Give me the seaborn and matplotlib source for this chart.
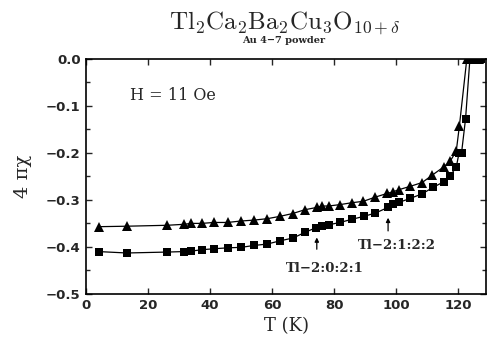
import matplotlib
matplotlib.use("Agg")
import matplotlib.pyplot as plt
from matplotlib.ticker import MultipleLocator
import seaborn as sns
import pandas as pd

# Data
sq_T = [4.0, 13.1, 26.2, 31.4, 33.9, 37.3, 41.3, 45.7, 50.0, 54.1, 58.4, 62.6,
        66.8, 70.6, 74.2, 76.0, 78.2, 81.9, 85.9, 89.6, 93.3, 97.4, 99.1, 101.0,
        104.5, 108.4, 112.0, 115.5, 117.4, 119.4, 120.3, 121.1, 122.4, 123.8,
        125.0, 126.2, 127.4]
sq_chi = [-0.410, -0.413, -0.411, -0.410, -0.409, -0.406, -0.404, -0.402, -0.401,
          -0.397, -0.394, -0.387, -0.381, -0.369, -0.359, -0.355, -0.353, -0.348,
          -0.341, -0.335, -0.328, -0.316, -0.309, -0.305, -0.297, -0.287, -0.273,
          -0.261, -0.249, -0.230, -0.200, -0.200, -0.127, 0.0, 0.0, 0.0, 0.0]

tr_T = [4.0, 13.1, 26.2, 31.4, 33.9, 37.3, 41.2, 45.6, 49.8, 54.1, 58.4, 62.5,
        66.6, 70.5, 74.4, 76.2, 78.2, 81.9, 85.7, 89.4, 93.3, 97.2, 98.9, 101.0,
        104.6, 108.4, 111.7, 115.3, 117.4, 119.4, 120.4, 122.8, 124.0, 125.3,
        126.6]
tr_chi = [-0.357, -0.356, -0.354, -0.352, -0.350, -0.350, -0.348, -0.348, -0.345,
          -0.343, -0.340, -0.335, -0.329, -0.321, -0.316, -0.313, -0.313, -0.310,
          -0.306, -0.303, -0.294, -0.286, -0.283, -0.278, -0.271, -0.263, -0.247,
          -0.230, -0.218, -0.196, -0.143, 0.0, 0.0, 0.0, 0.0]

x_ticks = [0, 20, 40, 60, 80, 100, 120]
y_ticks = [0.0, -0.1, -0.2, -0.3, -0.4, -0.5]

sns.set_theme(style="ticks")
plt.rcParams["mathtext.fontset"] = "cm"

fig = plt.figure(figsize=(4.87, 3.49), dpi=100)
ax = fig.add_axes([0.177, 0.158, 0.821, 0.673])

df_sq = pd.DataFrame({"T": sq_T, "chi": sq_chi})
df_tr = pd.DataFrame({"T": tr_T, "chi": tr_chi})

sns.lineplot(data=df_sq, x="T", y="chi", ax=ax, color="black", lw=0.9,
             marker="s", markersize=6.3, markeredgewidth=0, sort=False)
sns.lineplot(data=df_tr, x="T", y="chi", ax=ax, color="black", lw=0.9,
             marker="^", markersize=6.8, markeredgewidth=0, sort=False)

ax.set_xlim(0, 129)
ax.set_ylim(-0.5, 0.0)
ax.set_xticks(x_ticks)
ax.set_yticks(y_ticks)
ax.set_xticklabels([str(t) for t in x_ticks])
ax.set_yticklabels(["0.0", "\u22120.1", "\u22120.2", "\u22120.3", "\u22120.4", "\u22120.5"])
ax.yaxis.set_minor_locator(MultipleLocator(0.05))
ax.tick_params(which="both", direction="in", top=True, right=True,
               length=4, width=1.0, labelsize=9.5, pad=4)
ax.tick_params(which="minor", length=3)
for lab in ax.get_xticklabels() + ax.get_yticklabels():
    lab.set_fontweight("bold")
    lab.set_family("DejaVu Sans")
for s in ax.spines.values():
    s.set_linewidth(1.2)
    s.set_color("black")

ax.set_xlabel("T (K)", family="DejaVu Serif", fontsize=13, labelpad=3)
ax.set_ylabel("4 \u03c0\u03c7", family="DejaVu Serif", fontsize=14, labelpad=10)

fig.text(0.585, 0.935, r"$\mathrm{Tl_{2}Ca_{2}Ba_{2}Cu_{3}O_{10+\delta}}$",
         ha="center", va="center", fontsize=18)
fig.text(0.582, 0.884, "Au 4\u22127 powder", ha="center", va="center",
         family="DejaVu Serif", fontweight="bold", fontsize=7)

ax.text(14.2, -0.077, "H = 11 Oe", family="DejaVu Serif", fontsize=11.5,
        ha="left", va="center")

ax.annotate("", xy=(74.4, -0.380), xytext=(74.4, -0.405),
            arrowprops=dict(arrowstyle="-|>", lw=0.9, color="black",
                            mutation_scale=6, shrinkA=0, shrinkB=0))
ax.text(76.9, -0.445, "Tl\u22122:0:2:1", family="DejaVu Serif", fontweight="bold",
        fontsize=9.5, ha="center", va="center")
ax.annotate("", xy=(97.4, -0.338), xytext=(97.4, -0.366),
            arrowprops=dict(arrowstyle="-|>", lw=0.9, color="black",
                            mutation_scale=6, shrinkA=0, shrinkB=0))
ax.text(100.2, -0.396, "Tl\u22122:1:2:2", family="DejaVu Serif", fontweight="bold",
        fontsize=9.5, ha="center", va="center")

fig.savefig("out.png", dpi=100)
